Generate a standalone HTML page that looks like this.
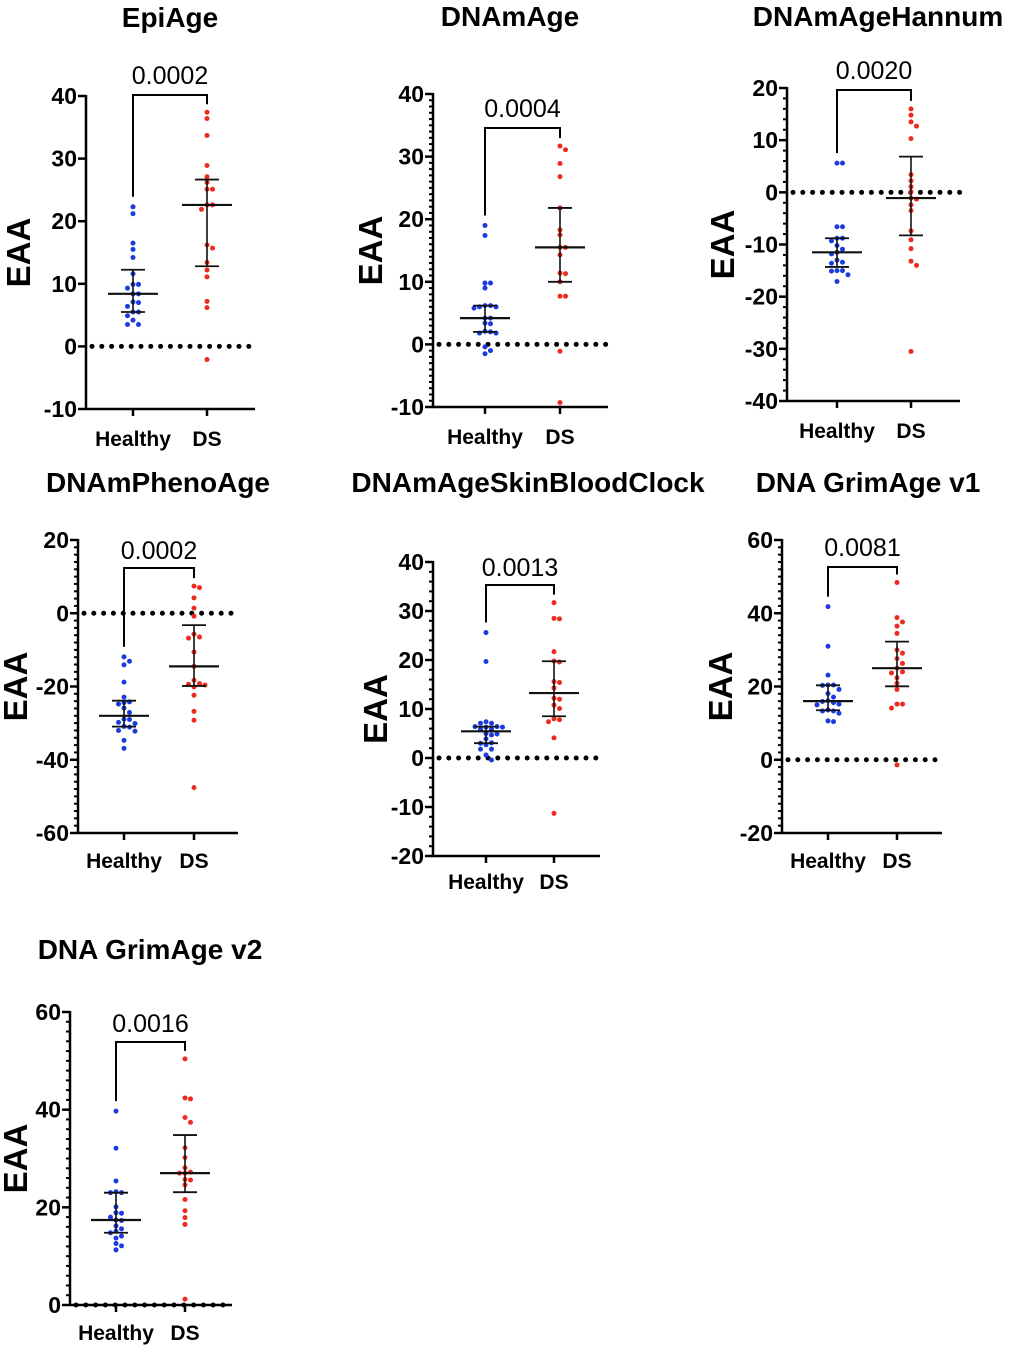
<!DOCTYPE html>
<html><head><meta charset="utf-8">
<style>
html,body{margin:0;padding:0;background:#fff;}
svg{display:block;font-family:"Liberation Sans",Arial,sans-serif;}
</style></head>
<body>
<svg id="fig" width="1020" height="1352" viewBox="0 0 1020 1352" xmlns="http://www.w3.org/2000/svg"></svg>
<script>
// ---- data (EAA values) ----
const groupLabels = ["Healthy", "DS"];
const epiHealthy = [22.3,21.2,16.5,15.5,14.2,11.6,9.9,9.9,9.3,8.4,8.4,7.1,7.0,6.4,5.5,5.5,4.9,4.2,3.5,3.5];
const epiDS = [37.4,36.4,33.7,28.9,27.1,26.2,25.1,25.1,22.6,22.6,21.9,16.2,15.7,13.4,12.2,11.1,7.2,6.2,-2.1];
const dnamHealthy = [19.0,17.4,9.8,9.8,9.0,6.2,6.2,6.0,6.0,5.8,4.2,4.2,3.4,3.3,2.1,2.0,1.8,1.8,-0.4,-1.0,-1.5];
const dnamDS = [31.7,31.1,28.9,26.8,21.8,18.3,17.5,15.5,15.5,14.3,11.4,11.3,10.0,7.7,7.7,-1.1,-9.3];
const hannumHealthy = [5.6,5.6,-6.6,-6.6,-8.8,-8.8,-9.3,-10.2,-10.9,-11.5,-11.8,-13.0,-13.4,-13.6,-15.0,-15.1,-15.0,-15.8,-17.1];
const hannumDS = [16.0,14.8,13.5,12.7,10.3,3.4,2.2,1.1,0.1,-1.1,-1.3,-2.4,-3.5,-7.4,-9.1,-10.8,-13.2,-14.0,-30.5];
const phenoHealthy = [-11.9,-13.1,-14.1,-18.8,-22.9,-24.2,-24.4,-24.8,-25.9,-27.1,-28.9,-29.0,-29.8,-30.1,-30.9,-31.1,-32.0,-32.2,-34.7,-36.9];
const phenoDS = [7.4,7.0,4.2,1.4,-0.8,-5.7,-6.5,-6.8,-10.6,-14.5,-18.3,-19.2,-19.4,-19.6,-20.1,-22.4,-26.8,-29.2,-47.6];
const skinHealthy = [25.6,19.7,7.4,7.1,7.1,6.4,6.4,6.3,6.3,5.9,5.9,5.0,4.9,4.7,3.9,3.1,3.0,2.7,1.8,1.8,0.6,-0.4];
const skinDS = [31.7,28.5,28.4,21.7,19.8,19.6,15.6,15.4,14.3,12.2,12.0,10.8,10.1,8.0,7.8,7.4,4.1,-11.3];
const grim1Healthy = [41.8,31.0,23.1,20.4,20.4,20.3,19.2,18.1,17.1,16.1,15.9,15.6,15.2,15.0,13.6,13.3,13.3,12.7,10.6,10.4];
const grim1DS = [48.4,38.8,37.6,36.5,34.5,30.0,29.1,27.6,26.3,25.0,24.0,23.7,22.4,20.9,19.2,15.2,15.2,14.1,-1.4];
const grim2Healthy = [39.7,32.1,25.4,23.2,23.0,23.0,20.1,18.9,18.8,18.0,17.4,17.3,16.2,15.6,15.1,14.8,14.1,13.7,12.6,12.1,11.3];
const grim2DS = [50.4,42.4,42.2,38.4,37.4,32.2,30.2,28.1,27.2,27.0,27.0,25.7,25.6,24.6,21.6,19.3,17.9,16.5,1.2];
const titles = ["EpiAge","DNAmAge","DNAmAgeHannum","DNAmPhenoAge","DNAmAgeSkinBloodClock","DNA GrimAge v1","DNA GrimAge v2"];
const pValues = ["0.0002","0.0004","0.0020","0.0002","0.0013","0.0081","0.0016"];
const ticksA = [-10,0,10,20,30,40];
const ticksB = [-40,-30,-20,-10,0,10,20];
const ticksC = [-60,-40,-20,0,20];
const ticksD = [-20,-10,0,10,20,30,40];
const ticksE = [-20,0,20,40,60];
const ticksF = [0,20,40,60];

// ---- layout ----
const panels = [
 {h:epiHealthy, d:epiDS, ticks:ticksA, minor:0, ax:86, x1:255, yTop:96, yBot:409, titleX:170, titleY:27, xH:133, xD:207, pY:84, brY:95, labY:446, eaaX:18},
 {h:dnamHealthy, d:dnamDS, ticks:ticksA, minor:1, ax:433, x1:608, yTop:94, yBot:407, titleX:510, titleY:26, xH:485, xD:560, pY:117, brY:128, labY:444, eaaX:370},
 {h:hannumHealthy, d:hannumDS, ticks:ticksB, minor:2, ax:787, x1:960, yTop:88, yBot:401, titleX:878, titleY:26, xH:837, xD:911, pY:79, brY:90, labY:438, eaaX:722},
 {h:phenoHealthy, d:phenoDS, ticks:ticksC, minor:4, ax:78, x1:238, yTop:540, yBot:833, titleX:158, titleY:492, xH:124, xD:194, pY:559, brY:568, labY:868, eaaX:15},
 {h:skinHealthy, d:skinDS, ticks:ticksD, minor:2, ax:433, x1:600, yTop:562, yBot:856, titleX:528, titleY:492, xH:486, xD:554, pY:576, brY:585, labY:889, eaaX:375},
 {h:grim1Healthy, d:grim1DS, ticks:ticksE, minor:4, ax:782, x1:942, yTop:540, yBot:833, titleX:868, titleY:492, xH:828, xD:897, pY:556, brY:567, labY:868, eaaX:720},
 {h:grim2Healthy, d:grim2DS, ticks:ticksF, minor:4, ax:70, x1:232, yTop:1012, yBot:1305, titleX:150, titleY:959, xH:116, xD:185, pY:1032, brY:1042, labY:1340, eaaX:15},
];
const NS="http://www.w3.org/2000/svg";
const svg=document.getElementById('fig');
function mk(tag,attrs,parent){const e=document.createElementNS(NS,tag);for(const k in attrs)e.setAttribute(k,attrs[k]);(parent||svg).appendChild(e);return e;}
function quant(arr,q){const s=[...arr].sort((a,b)=>a-b);const p=(s.length-1)*q;const lo=Math.floor(p),hi=Math.ceil(p);return s[lo]+(s[hi]-s[lo])*(p-lo);}

panels.forEach((P,i)=>{
  const g=mk('g',{});
  
  
  const tmin=P.ticks[0], tmax=P.ticks[P.ticks.length-1];
  const y=v=>P.yBot-(v-tmin)/(tmax-tmin)*(P.yBot-P.yTop);
  const t=mk('text',{x:P.titleX,y:P.titleY,'text-anchor':'middle','font-size':28,'font-weight':'bold'},g);
  t.textContent=titles[i];
  
  
  const cy=(P.yTop+P.yBot)/2;
  const ea=mk('text',{x:P.eaaX,y:cy,'text-anchor':'middle','font-size':33,'font-weight':'bold',transform:`rotate(-90 ${P.eaaX} ${cy})`,dy:12},g);
  ea.textContent='EAA';
  
  
  if(P.minor){const step=(P.ticks[1]-P.ticks[0])/ (P.minor===1?10:P.minor===2?5:10);
    for(let v=tmin;v<=tmax+1e-9;v+=step){mk('line',{x1:P.ax-4,x2:P.ax,y1:y(v),y2:y(v),stroke:'#000','stroke-width':2},g);}}
  const yl=mk('line',{x1:P.ax,x2:P.ax,y1:P.yTop-1,y2:P.yBot+1,stroke:'#000','stroke-width':2.5},g);
  
  
  const xl=mk('line',{x1:P.ax-1,x2:P.x1,y1:P.yBot,y2:P.yBot,stroke:'#000','stroke-width':2.5},g);
  
  
  P.ticks.forEach(v=>{
    mk('line',{x1:P.ax-8,x2:P.ax,y1:y(v),y2:y(v),stroke:'#000','stroke-width':2.5},g);
    const tl=mk('text',{x:P.ax-9,y:y(v)+8,'text-anchor':'end','font-size':23,'font-weight':'bold'},g);
    tl.textContent=v;
    
    
  });
  [P.xH,P.xD].forEach((cx,k)=>{
    mk('line',{x1:cx,x2:cx,y1:P.yBot,y2:P.yBot+7,stroke:'#000','stroke-width':2.5},g);
    const xt=mk('text',{x:cx,y:P.labY,'text-anchor':'middle','font-size':21,'font-weight':'bold'},g);
    xt.textContent=groupLabels[k];
    
    
  });
  const y0=y(0);
  for(let x=P.ax+6;x<=P.x1;x+=9.8){mk('circle',{cx:x,cy:y0,r:2.5,fill:'#000'},g);}
  const hiH=Math.max(...P.h), hiD=Math.max(...P.d);
  const br=mk('path',{d:`M${P.xH} ${y(hiH)-10} V${P.brY} H${P.xD} V${y(hiD)-8}`,fill:'none',stroke:'#000','stroke-width':2},g);
  
  
  const pv=mk('text',{x:(P.xH+P.xD)/2,y:P.pY,'text-anchor':'middle','font-size':25},g);
  pv.textContent=pValues[i];
  
  
  [[P.h,P.xH,'#1a3be0','healthy'],[P.d,P.xD,'#ee2a1e','ds']].forEach(([arr,cx,col,nm])=>{
    const placed=[];
    [...arr].sort((a,b)=>b-a).forEach(v=>{
      const py=y(v);const offs=[0,5.5,-5.5,11,-11,16.5,-16.5];
      let ox=0;for(const o of offs){if(placed.every(p=>Math.hypot(p[0]-o,p[1]-py)>=5)){ox=o;break;}}
      placed.push([ox,py]);
      const c=mk('circle',{cx:cx+ox,cy:py,r:2.5,fill:col},g);
      
      
    });
    const med=quant(arr,0.5),q1=quant(arr,0.25),q3=quant(arr,0.75);
    const eb=mk('g',{},g);
    
    
    mk('line',{x1:cx,x2:cx,y1:y(q3),y2:y(q1),stroke:'#111','stroke-width':1.6},eb);
    mk('line',{x1:cx-25,x2:cx+25,y1:y(med),y2:y(med),stroke:'#111','stroke-width':2.2},eb);
    mk('line',{x1:cx-12,x2:cx+12,y1:y(q3),y2:y(q3),stroke:'#111','stroke-width':1.8},eb);
    mk('line',{x1:cx-12,x2:cx+12,y1:y(q1),y2:y(q1),stroke:'#111','stroke-width':1.8},eb);
  });
});
</script>
</body></html>
